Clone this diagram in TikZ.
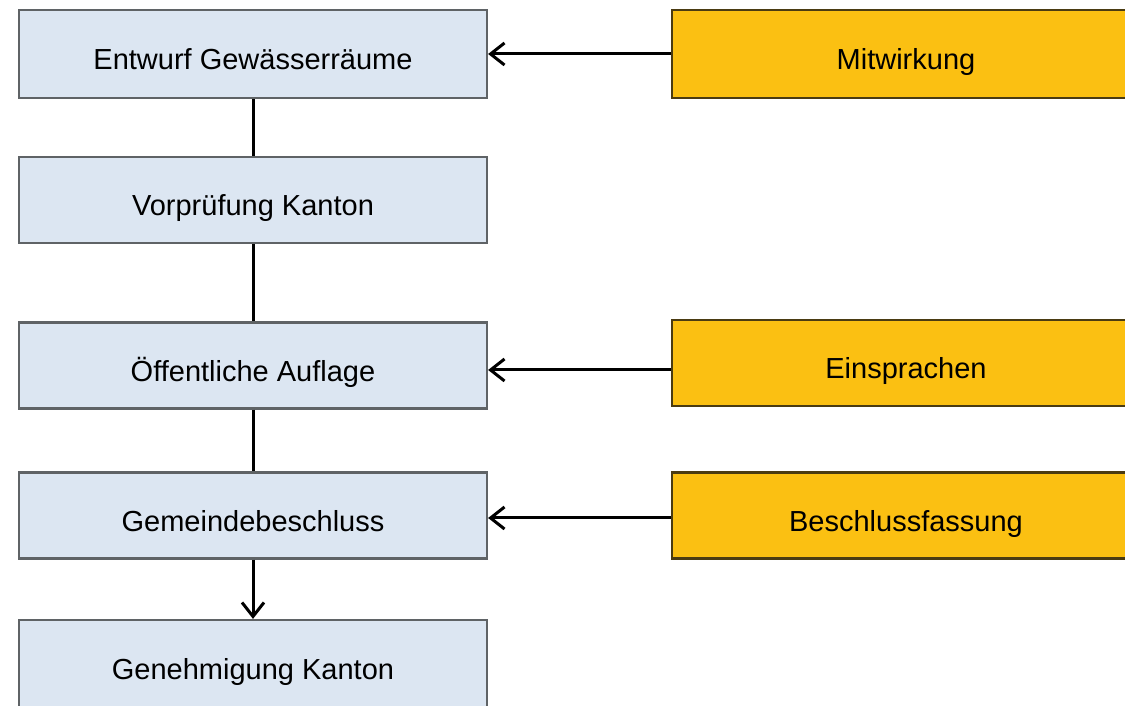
\documentclass[tikz,border=0pt]{standalone}
\usepackage{fontspec}
\setmainfont{Liberation Sans}
\usetikzlibrary{arrows.meta}
\definecolor{boxblue}{HTML}{DCE6F2}
\definecolor{boxgray}{HTML}{5F6366}
\definecolor{boxorange}{HTML}{FBC012}
\definecolor{orangeedge}{HTML}{4A3B12}
\begin{document}
\begin{tikzpicture}[x=1pt,y=1pt,
  stage/.style={draw=boxgray, fill=boxblue, line width=2.2pt, minimum width=468pt,
    inner sep=0pt, text height=32pt, text depth=0pt, font=\fontsize{29}{34}\selectfont},
  input/.style={draw=orangeedge, fill=boxorange, line width=2.2pt, minimum width=468pt,
    inner sep=0pt, text height=32pt, text depth=0pt, font=\fontsize{29}{34}\selectfont},
  link/.style={draw=black, line width=3pt},
  arr/.style={link, -{Straight Barb[length=14pt, width=22pt, line width=3pt]}}]
\useasboundingbox (0,0) rectangle (1125,706);
\begin{scope}
\clip (0,0) rectangle (1125,706);
\node[stage, minimum height=88pt] (ent) at (253,652) {Entwurf Gewässerräume};
\node[stage, minimum height=86pt] (vor) at (253,506) {Vorprüfung Kanton};
\node[stage, minimum height=86pt] (auf) at (253,340.5) {Öffentliche Auflage};
\node[stage, minimum height=86pt] (gem) at (253,190.5) {Gemeindebeschluss};
\node[stage, minimum height=87pt] (gen) at (253,42.5) {Genehmigung Kanton};
\node[input, minimum height=88pt] (mit) at (906,652) {Mitwirkung};
\node[input, minimum height=86pt] (ein) at (906,343) {Einsprachen};
\node[input, minimum height=86pt] (bes) at (906,190.5) {Beschlussfassung};
\draw[link] (ent.south) -- (vor.north);
\draw[link] (vor.south) -- (auf.north);
\draw[link] (auf.south) -- (gem.north);
\draw[arr] (gem.south) -- (gen.north);
\draw[arr] (mit.west) -- (mit.west -| ent.east);
\draw[arr] ([yshift=-7pt]ein.west) -- ([yshift=-7pt]ein.west -| auf.east);
\draw[arr] ([yshift=-2.5pt]bes.west) -- ([yshift=-2.5pt]bes.west -| gem.east);
\end{scope}
\end{tikzpicture}
\end{document}
